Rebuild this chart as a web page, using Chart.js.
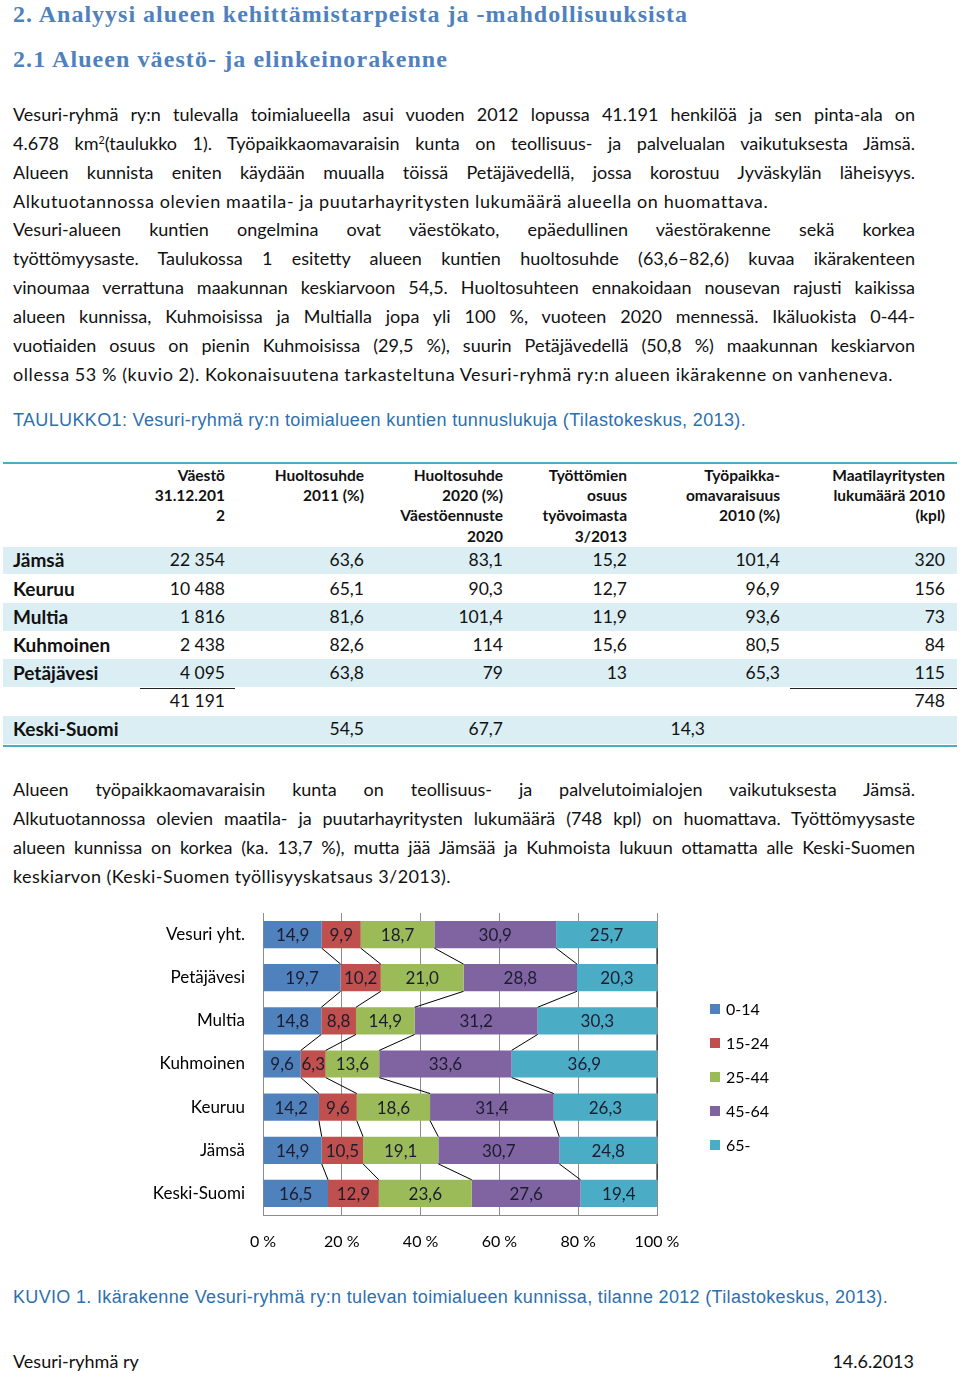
<!DOCTYPE html>
<html lang="fi">
<head>
<meta charset="utf-8">
<title>Vesuri-ryhmä ry</title>
<script src="https://cdn.jsdelivr.net/npm/chart.js@4.4.1/dist/chart.umd.min.js"></script>
<style>
html, body { margin: 0; padding: 0; background: #fff; }
#page { position: relative; width: 960px; height: 1373px; overflow: hidden; font-family: Lato, "Noto Sans", sans-serif; color: #111; }
.t { position: absolute; white-space: nowrap; }
.band { position: absolute; left: 3px; width: 954px; background: #daeef3; }
.rule { position: absolute; left: 3px; width: 954px; height: 2px; background: #4bacc6; }
.uline { position: absolute; height: 1px; background: #222; }
#chartBox { position: absolute; left: 140px; top: 900px; width: 660px; height: 365px; }
sup { font-size: 60%; line-height: 0; vertical-align: 0.6em; }
</style>
</head>
<body>
<div id="page">
  <div class="rule" style="top:462px"></div>
  <div class="band" style="top:547px;height:27px"></div>
  <div class="band" style="top:603px;height:28px"></div>
  <div class="band" style="top:659px;height:28px"></div>
  <div class="band" style="top:716px;height:28px"></div>
  <div class="rule" style="top:745px"></div>
  <div class="uline" style="left:140px;width:95px;top:688px"></div>
  <div class="uline" style="left:790px;width:167px;top:688px"></div>
  <div id="chartBox"><canvas id="ageChart" width="660" height="365"></canvas></div>
</div>
<script>
"use strict";

// chart data (KUVIO 1)
var categories = ['Vesuri yht.', 'Petäjävesi', 'Multia', 'Kuhmoinen', 'Keuruu', 'Jämsä', 'Keski-Suomi'];
var age0to14 = [14.9, 19.7, 14.8, 9.6, 14.2, 14.9, 16.5];
var age15to24 = [9.9, 10.2, 8.8, 6.3, 9.6, 10.5, 12.9];
var age25to44 = [18.7, 21.0, 14.9, 13.6, 18.6, 19.1, 23.6];
var age45to64 = [30.9, 28.8, 31.2, 33.6, 31.4, 30.7, 27.6];
var age65plus = [25.7, 20.3, 30.3, 36.9, 26.3, 24.8, 19.4];
var seriesLabels = ['0-14', '15-24', '25-44', '45-64', '65-'];
var seriesColors = ['#4f81bd', '#c0504d', '#9bbb59', '#8064a2', '#4bacc6'];
var xTickLabels = ['0 %', '20 %', '40 %', '60 %', '80 %', '100 %'];

// table data (TAULUKKO 1)
var tableRows = ['Jämsä', 'Keuruu', 'Multia', 'Kuhmoinen', 'Petäjävesi', '', 'Keski-Suomi'];
var colPopulation = ['22 354', '10 488', '1 816', '2 438', '4 095', '41 191', ''];
var colDep2011 = ['63,6', '65,1', '81,6', '82,6', '63,8', '', '54,5'];
var colDep2020 = ['83,1', '90,3', '101,4', '114', '79', '', '67,7'];
var colUnemployed = ['15,2', '12,7', '11,9', '15,6', '13', '', '14,3'];
var colJobs = ['101,4', '96,9', '93,6', '80,5', '65,3', '', ''];
var colFarms = ['320', '156', '73', '84', '115', '748', ''];
var tableHeaders = [
    ['Väestö', '31.12.201', '2'],
    ['Huoltosuhde', '2011 (%)'],
    ['Huoltosuhde', '2020 (%)', 'Väestöennuste', '2020'],
    ['Työttömien', 'osuus', 'työvoimasta', '3/2013'],
    ['Työpaikka-', 'omavaraisuus', '2010 (%)'],
    ['Maatilayritysten', 'lukumäärä 2010', '(kpl)']
];

var page = document.getElementById('page');

function put(x, y, html, o) {
    o = o || {};
    var lh = o.lh || 28;
    var d = document.createElement('div');
    d.className = 't';
    d.innerHTML = html;
    d.style.fontSize = (o.size || 18) + 'px';
    d.style.lineHeight = lh + 'px';
    d.style.top = (y - lh / 2) + 'px';
    if (o.font) d.style.fontFamily = o.font;
    if (o.bold) d.style.fontWeight = 'bold';
    if (o.color) d.style.color = o.color;
    page.appendChild(d);
    var w = d.getBoundingClientRect().width;
    if (o.fit) {
        var txt = d.textContent;
        if (o.justify) {
            var n = txt.split(' ').length - 1;
            if (n > 0) d.style.wordSpacing = ((o.fit - w) / n) + 'px';
        } else {
            d.style.letterSpacing = ((o.fit - w) / txt.length) + 'px';
        }
        w = d.getBoundingClientRect().width;
    }
    d.style.left = (o.right ? x - w : x) + 'px';
    return d;
}

// headings
var headFont = '"Liberation Serif", "DejaVu Serif", serif';
put(13, 14, '2. Analyysi alueen kehittämistarpeista ja -mahdollisuuksista', { font: headFont, bold: true, size: 24, color: '#4f81bd', lh: 28, fit: 675 });
put(13, 59, '2.1 Alueen väestö- ja elinkeinorakenne', { font: headFont, bold: true, size: 24, color: '#4f81bd', lh: 30, fit: 435 });

// body text, one entry per printed line: [text, justified, end x]
var bodyLines = [
    ['Vesuri-ryhmä ry:n tulevalla toimialueella asui vuoden 2012 lopussa 41.191 henkilöä ja sen pinta-ala on', true, 915],
    ['4.678 km<sup>2</sup>(taulukko 1). Työpaikkaomavaraisin kunta on teollisuus- ja palvelualan vaikutuksesta Jämsä.', true, 915],
    ['Alueen kunnista eniten käydään muualla töissä Petäjävedellä, jossa korostuu Jyväskylän läheisyys.', true, 915],
    ['Alkutuotannossa olevien maatila- ja puutarhayritysten lukumäärä alueella on huomattava.', false, 768],
    ['Vesuri-alueen kuntien ongelmina ovat väestökato, epäedullinen väestörakenne sekä korkea', true, 915],
    ['työttömyysaste. Taulukossa 1 esitetty alueen kuntien huoltosuhde (63,6–82,6) kuvaa ikärakenteen', true, 915],
    ['vinoumaa verrattuna maakunnan keskiarvoon 54,5. Huoltosuhteen ennakoidaan nousevan rajusti kaikissa', true, 915],
    ['alueen kunnissa, Kuhmoisissa ja Multialla jopa yli 100 %, vuoteen 2020 mennessä. Ikäluokista 0-44-', true, 915],
    ['vuotiaiden osuus on pienin Kuhmoisissa (29,5 %), suurin Petäjävedellä (50,8 %) maakunnan keskiarvon', true, 915],
    ['ollessa 53 % (kuvio 2). Kokonaisuutena tarkasteltuna Vesuri-ryhmä ry:n alueen ikärakenne on vanheneva.', false, 893]
];
var bodyY = [114, 143, 172, 201, 229, 258, 287, 316, 345, 374];
bodyLines.forEach(function (l, i) {
    put(13, bodyY[i], l[0], { fit: l[2] - 13, justify: l[1] });
});

var capFont = '"Liberation Sans", Arial, sans-serif';
put(13, 420, 'TAULUKKO1: Vesuri-ryhmä ry:n toimialueen kuntien tunnuslukuja (Tilastokeskus, 2013).', { font: capFont, size: 18, color: '#2d6fae', fit: 733 });

// table
var colRight = [225, 364, 503, 627, 780, 945];
var headY = [475, 495, 515, 536];
tableHeaders.forEach(function (lines, c) {
    lines.forEach(function (s, j) {
        put(colRight[c], headY[j], s, { bold: true, size: 15.5, lh: 20, right: true });
    });
});
var rowY = [560, 589, 617, 645, 673, 701, 729];
var cols = [colPopulation, colDep2011, colDep2020, colUnemployed, colJobs, colFarms];
tableRows.forEach(function (name, r) {
    if (name) put(13, rowY[r], name, { bold: true, size: 19 });
    cols.forEach(function (col, c) {
        if (!col[r]) return;
        var x = colRight[c];
        if (name === 'Keski-Suomi' && c === 3) x = 705;
        put(x, rowY[r], col[r], { size: 17.5, right: true });
    });
});

var para2 = [
    ['Alueen työpaikkaomavaraisin kunta on teollisuus- ja palvelutoimialojen vaikutuksesta Jämsä.', true, 915],
    ['Alkutuotannossa olevien maatila- ja puutarhayritysten lukumäärä (748 kpl) on huomattava. Työttömyysaste', true, 915],
    ['alueen kunnissa on korkea (ka. 13,7 %), mutta jää Jämsää ja Kuhmoista lukuun ottamatta alle Keski-Suomen', true, 915],
    ['keskiarvon (Keski-Suomen työllisyyskatsaus 3/2013).', false, 451]
];
var para2Y = [789, 818, 847, 876];
para2.forEach(function (l, i) {
    put(13, para2Y[i], l[0], { fit: l[2] - 13, justify: l[1] });
});

put(13, 1297, 'KUVIO 1. Ikärakenne Vesuri-ryhmä ry:n tulevan toimialueen kunnissa, tilanne 2012 (Tilastokeskus, 2013).', { font: capFont, size: 18, color: '#2d6fae', fit: 875 });
put(13, 1361, 'Vesuri-ryhmä ry', { size: 18 });
put(914, 1361, '14.6.2013', { size: 18, right: true });

// chart helpers
function fmt(v) {
    return v.toFixed(1).replace('.', ',');
}

var seriesLines = {
    id: 'seriesLines',
    afterDatasetsDraw: function (chart) {
        var c = chart.ctx;
        var right = chart.chartArea.right;
        c.save();
        c.strokeStyle = '#000';
        c.lineWidth = 1;
        c.beginPath();
        chart.data.datasets.forEach(function (ds, k) {
            var bars = chart.getDatasetMeta(k).data;
            for (var i = 0; i < bars.length - 1; i++) {
                var a = bars[i], b = bars[i + 1];
                c.moveTo(Math.min(a.x, right), a.y + a.height / 2);
                c.lineTo(Math.min(b.x, right), b.y - b.height / 2);
            }
        });
        c.stroke();
        c.restore();
    }
};

var valueLabels = {
    id: 'valueLabels',
    afterDatasetsDraw: function (chart) {
        var c = chart.ctx;
        var right = chart.chartArea.right;
        c.save();
        c.font = '17px Lato';
        c.fillStyle = '#1c1c30';
        c.textAlign = 'center';
        c.textBaseline = 'middle';
        chart.data.datasets.forEach(function (ds, k) {
            chart.getDatasetMeta(k).data.forEach(function (el, i) {
                var x = (Math.min(el.x, right) + el.base) / 2;
                c.fillText(fmt(ds.data[i]), x, el.y + 1);
            });
        });
        c.restore();
    }
};

var sideLegend = {
    id: 'sideLegend',
    afterDraw: function (chart) {
        var c = chart.ctx;
        var area = chart.chartArea;
        var mid = (area.top + area.bottom) / 2 + 13;
        c.save();
        c.font = '16px Lato';
        c.textBaseline = 'middle';
        chart.data.datasets.forEach(function (ds, i) {
            var y = mid + (i - 2) * 34;
            c.fillStyle = ds.backgroundColor;
            c.fillRect(area.right + 53, y - 5, 10, 10);
            c.fillStyle = '#000';
            c.fillText(ds.label, area.right + 69, y + 1);
        });
        c.restore();
    }
};

var seriesData = [age0to14, age15to24, age25to44, age45to64, age65plus];

new Chart(document.getElementById('ageChart'), {
    type: 'bar',
    data: {
        labels: categories,
        datasets: seriesData.map(function (d, i) {
            return {
                label: seriesLabels[i],
                data: d,
                backgroundColor: seriesColors[i],
                borderWidth: 0,
                barPercentage: 0.63,
                categoryPercentage: 1
            };
        })
    },
    options: {
        indexAxis: 'y',
        responsive: false,
        animation: false,
        layout: {
            padding: { top: 13, right: 143, left: 0, bottom: 0 }
        },
        scales: {
            x: {
                stacked: true,
                min: 0,
                max: 100,
                ticks: {
                    stepSize: 20,
                    padding: 17,
                    maxRotation: 0,
                    color: '#000',
                    font: { family: 'Lato', size: 16 },
                    callback: function (v, i) { return xTickLabels[i]; }
                },
                grid: { color: '#8c8c8c', drawTicks: false },
                border: { color: '#8c8c8c' },
                afterFit: function (s) { s.height = 50; s.paddingLeft = 0; s.paddingRight = 0; }
            },
            y: {
                stacked: true,
                grid: { display: false, drawTicks: false },
                border: { color: '#8c8c8c' },
                ticks: {
                    padding: 18,
                    color: '#000',
                    font: { family: 'Lato', size: 17 }
                },
                afterFit: function (s) { s.width = 123; s.paddingTop = 0; s.paddingBottom = 0; }
            }
        },
        plugins: {
            legend: { display: false },
            tooltip: { enabled: false }
        }
    },
    plugins: [seriesLines, valueLabels, sideLegend]
});
</script>
</body>
</html>
